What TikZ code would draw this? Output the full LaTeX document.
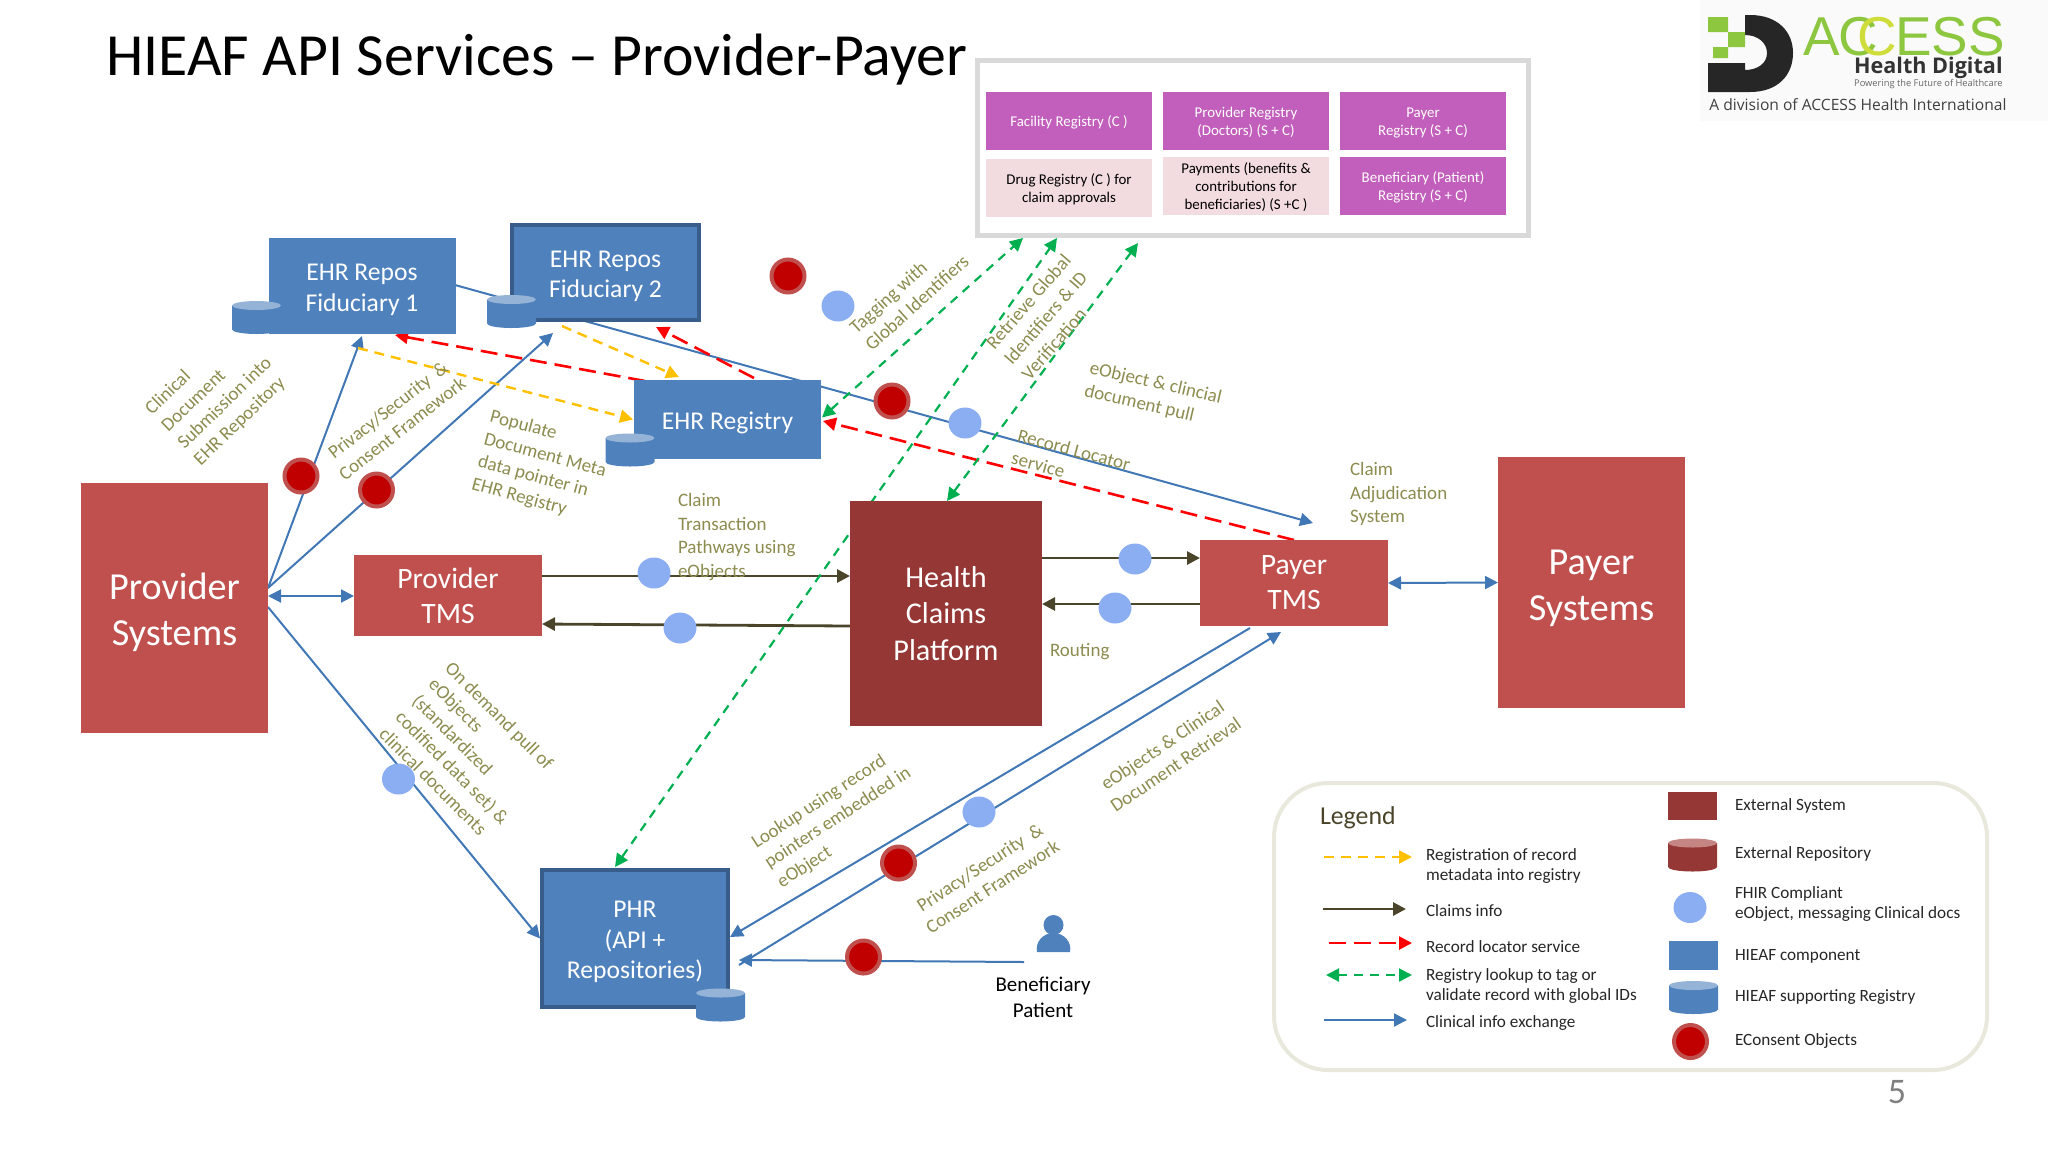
\documentclass[tikz,border=0pt]{standalone}
\usepackage{fontspec}
\setmainfont{Carlito}
\newfontfamily\logofont{Liberation Sans}
\newfontfamily\logotext{Open Sans}
\usetikzlibrary{calc,arrows.meta,shapes.geometric,backgrounds}
\definecolor{HieafBlue}{HTML}{4F81BD}
\definecolor{HieafEdge}{HTML}{385D8A}
\definecolor{HieafLight}{HTML}{95B3D7}
\definecolor{ExtRed}{HTML}{C0504D}
\definecolor{ExtDark}{HTML}{953735}
\definecolor{ExtLight}{HTML}{C58583}
\definecolor{LineBlue}{HTML}{4177B5}
\definecolor{ClaimLine}{HTML}{4A452A}
\definecolor{LabelOlive}{HTML}{8C8C50}
\definecolor{TokenBlue}{HTML}{8BAEF2}
\definecolor{ConsentRed}{HTML}{C00000}
\definecolor{RegPurple}{HTML}{C25EBB}
\definecolor{RegPink}{HTML}{F2DCDF}
\definecolor{LogoGreen}{HTML}{8DC63F}
\definecolor{LogoLime}{HTML}{CFDD3A}
\definecolor{RegYellow}{HTML}{FFC000}
\definecolor{GreenLink}{HTML}{00B050}
\definecolor{LegendEdge}{HTML}{E8E8DC}
% Text sits a little low in the boxes
\newcommand{\LowLine}{\rule{0pt}{.93em}}
\tikzset{%
	% Size in pixels of the reference
	Size/.style 2 args={minimum width=#1*0.5pt,minimum height=#2*0.5pt},
	% Style of the boxes
	BoxNode/.style={rectangle,inner sep=0,outer sep=0,align=center,text=white},
	ExtSystem/.style={BoxNode,fill=ExtRed,font=\fontsize{19.1}{23}\selectfont},
	ExtTms/.style={BoxNode,fill=ExtRed,font=\fontsize{14.8}{17.5}\selectfont},
	HieafBox/.style={BoxNode,fill=HieafBlue,font=\fontsize{12.8}{15.2}\selectfont},
	HieafEdged/.style={HieafBox,draw=HieafEdge,line width=2pt},
	% Style of the registry cells
	RegCell/.style={BoxNode,Size={166}{58},fill=RegPurple,font=\fontsize{7.45}{9}\selectfont},
	RegPale/.style={RegCell,fill=RegPink,text=black},
	% Style of the drums
	pics/Drum/.style 2 args={code={
		\fill[#1] (-24.5,-12) -- (-24.5,12) arc[start angle=180,end angle=0,x radius=24.5,y radius=4.5] -- (24.5,-12) -- cycle;
		\fill[#2] (0,-12) ellipse[x radius=24.5,y radius=4.5];
	}},
	% Style of the round objects on the branches
	Token/.style={ellipse,inner sep=0,outer sep=0,fill=TokenBlue,Size={33}{31}},
	Consent/.style={ellipse,inner sep=0,outer sep=0,fill=ConsentRed,draw=ExtRed,line width=2pt,Size={33}{33}},
	% Style of the labels
	FlowName/.style={font=\fontsize{9.5}{11.7}\selectfont,text=LabelOlive,align=left,inner sep=0,outer sep=0},
	LegendName/.style={font=\fontsize{8.6}{10}\selectfont,text=black!85,align=left,anchor=west,inner sep=0,outer sep=0,yshift=-0.5pt},
	% Style of the branches
	Tip/.style={>={Triangle[length=6.5pt,width=6.5pt]}},
	ClinicalLink/.style={Tip,draw=LineBlue,color=LineBlue,line width=1pt},
	ClaimLink/.style={Tip,draw=ClaimLine,color=ClaimLine,line width=1.4pt},
	MetaLink/.style={Tip,color=RegYellow,line width=1.2pt,dash pattern=on 5pt off 3.5pt},
	LocatorLink/.style={Tip,color=red,line width=1.3pt,dash pattern=on 8.5pt off 4pt},
	LookupLink/.style={Tip,color=GreenLink,line width=1.1pt,dash pattern=on 4.5pt off 3.5pt},
}

\begin{document}
\begin{tikzpicture}[x=0.5pt,y=-0.5pt] % one unit is one pixel of the reference
\useasboundingbox (0,0) rectangle (2048,1152);

%~~~~~~~~~~~~~~~~~~~~~~~~~~~~~~~~~~~~~~~~~~~~~~~~~~
% Title and logo
%~~~~~~~~~~~~~~~~~~~~~~~~~~~~~~~~~~~~~~~~~~~~~~~~~~
\node[anchor=west,inner sep=0,font=\fontsize{29.9}{34}\selectfont] (Title) at (106,60) {HIEAF API Services -- Provider-Payer};

\fill[black!2] (1700,0) rectangle (2048,121);
\fill[black!85] (1745,15) -- (1750,15) .. controls (1778,15) and (1793,32) .. (1793,53) .. controls (1793,75) and (1778,92) .. (1750,92) -- (1708,92) -- (1708,63) -- (1745,63) -- (1745,70) .. controls (1758,70) and (1767,63) .. (1767,53) .. controls (1767,43) and (1758,35) .. (1745,35) -- cycle;
\fill[LogoGreen] (1708,17) rectangle (1728,32) (1728,32) rectangle (1745,47) (1713,47) rectangle (1728,58);
\node[anchor=west,inner sep=0,font=\logofont\fontsize{27.4}{30}\selectfont,text=LogoGreen] (LogoName) at (1803,37) {A\kern-1pt C\kern-10pt\textcolor{LogoLime}{C}\kern-1pt ESS};
\node[anchor=east,inner sep=0,font=\logotext\bfseries\fontsize{10.8}{12}\selectfont,text=black!80] (LogoDigital) at (2003,68) {Health Digital};
\node[anchor=east,inner sep=0,font=\logotext\fontsize{4.65}{6}\selectfont,text=black!60] (LogoMotto) at (2003,84) {Powering the Future of Healthcare};
\node[anchor=west,inner sep=0,font=\logotext\fontsize{7.8}{9}\selectfont,text=black!75] (LogoLine) at (1709,105) {A division of ACCESS Health International};

%~~~~~~~~~~~~~~~~~~~~~~~~~~~~~~~~~~~~~~~~~~~~~~~~~~
% Set Nodes
%~~~~~~~~~~~~~~~~~~~~~~~~~~~~~~~~~~~~~~~~~~~~~~~~~~
\node[rectangle,draw=black!15,fill=white,line width=2.5pt,inner sep=0,outer sep=0,Size={551}{175}] (Panel) at (1252.5,148) {};
\node[RegCell] (RegFacility) at (1069,121) {\LowLine Facility Registry (C )};
\node[RegCell] (RegProvider) at (1246,121) {\LowLine Provider Registry\\(Doctors) (S + C)};
\node[RegCell] (RegPayer) at (1423,121) {\LowLine Payer\\Registry (S + C)};
\node[RegPale] (RegDrug) at (1069,188) {\LowLine Drug Registry (C ) for\\claim approvals};
\node[RegPale] (RegPayments) at (1246,186) {\LowLine Payments (benefits \&\\contributions for\\beneficiaries) (S +C )};
\node[RegCell] (RegBeneficiary) at (1423,186) {\LowLine Beneficiary (Patient)\\Registry (S + C)};

\node[ExtSystem,Size={187}{250}] (ProvSys) at (174.5,608) {\LowLine Provider\\Systems};
\node[ExtTms,Size={188}{81}] (ProvTms) at (448,595.5) {Provider\\TMS};
\node[BoxNode,fill=ExtDark,font=\fontsize{15.1}{18.3}\selectfont,Size={192}{225}] (Hcp) at (946,613.5) {Health\\Claims\\Platform};
\node[ExtTms,Size={188}{86}] (PayTms) at (1294,583) {Payer\\TMS};
\node[ExtSystem,Size={187}{251}] (PaySys) at (1591.5,582.5) {\LowLine Payer\\Systems};

\node[HieafBox,Size={187}{96}] (Ehr1) at (362,286) {\LowLine EHR Repos\\Fiduciary 1};
\node[HieafEdged,Size={187}{95}] (Ehr2) at (605.5,272.5) {\LowLine EHR Repos\\Fiduciary 2};
\node[HieafBox,Size={187}{79}] (Registry) at (727.5,419.5) {\LowLine EHR Registry};
\node[HieafEdged,Size={186}{137}] (Phr) at (635,938.5) {\LowLine PHR\\(API +\\Repositories)};

\pic (Ehr1Drum) at (256.5,317.5) {Drum={HieafBlue}{HieafLight}};
\pic (Ehr2Drum) at (511.5,311.5) {Drum={HieafBlue}{HieafLight}};
\pic (RegistryDrum) at (630,450) {Drum={HieafBlue}{HieafLight}};
\pic (PhrDrum) at (720.5,1005) {Drum={HieafBlue}{HieafLight}};

\node[Consent] (C1) at (301,476) {};
\node[Consent] (C2) at (376.5,490) {};
\node[Consent] (C3) at (788,276) {};
\node[Consent] (C4) at (892,401) {};
\node[Consent] (C5) at (898.5,863) {};
\node[Consent] (C6) at (863.5,957) {};

\node[Token] (T1) at (838,306) {};
\node[Token] (T2) at (965,423) {};
\node[Token] (T3) at (654,573) {};
\node[Token] (T4) at (680,628) {};
\node[Token] (T5) at (1135,559) {};
\node[Token] (T6) at (1115,608) {};
\node[Token] (T7) at (398.5,779) {};
\node[Token] (T8) at (979,812) {};

% Beneficiary
\node[circle,fill=HieafBlue,inner sep=0,minimum size=10pt] (PatientHead) at (1053.5,925) {};
\fill[HieafBlue] (1037,952) .. controls (1035,942) and (1043,933) .. (1053.5,933) .. controls (1064,933) and (1072,942) .. (1070,952) -- cycle;
\node[font=\fontsize{10.5}{13}\selectfont,align=center,inner sep=0] (PatientName) at (1043,997) {Beneficiary\\Patient};
\coordinate (PatientEnd) at (1024,962);

%~~~~~~~~~~~~~~~~~~~~~~~~~~~~~~~~~~~~~~~~~~~~~~~~~~
% Set Branches
%~~~~~~~~~~~~~~~~~~~~~~~~~~~~~~~~~~~~~~~~~~~~~~~~~~
\begin{scope}[on background layer]
%Clinical info exchange
\draw [->, ClinicalLink] ($ (ProvSys.east) + (0, -20) $) -- ($ (Ehr1.south) + (0, 2) $);
\draw [->, ClinicalLink] ($ (ProvSys.east) + (0, -20) $) -- ($ (Ehr2.south) + (-52.5, 13) $);
\draw [<->, ClinicalLink] ($ (ProvSys.east) + (0, -12) $) -- ($ (ProvTms.west) + (0, 0.5) $);
\draw [->, ClinicalLink] ($ (ProvSys.east) + (0, -1) $) -- ($ (Phr.west) + (-2, 0) $);
\draw [->, ClinicalLink] ($ (Ehr1.east) + (-0.5, -1) $) -- ($ (PayTms.north) + (19, -17) $);
\draw [<->, ClinicalLink] (PayTms.east) -- (PaySys.west);
\draw [->, ClinicalLink] ($ (PayTms.south) + (-44, 2) $) -- ($ (Phr.east) + (2, -1.5) $);
\draw [->, ClinicalLink] ($ (Phr.east) + (11, 26.5) $) -- ($ (PayTms.south) + (-13, 6) $);
\draw [->, ClinicalLink] (PatientEnd) -- ($ (Phr.east) + (11, 21.5) $);

%Claims info
\draw [->, ClaimLink] ($ (ProvTms.east) + (0, -19.5) $) -- ($ (Hcp.west) + (0, -37.5) $);
\draw [->, ClaimLink] ($ (Hcp.west) + (0, 12.5) $) -- ($ (ProvTms.east) + (0, 28.5) $);
\draw [->, ClaimLink] ($ (Hcp.east) + (0, -55.5) $) -- ($ (PayTms.west) + (0, -25) $);
\draw [->, ClaimLink] ($ (PayTms.west) + (0, 21) $) -- ($ (Hcp.east) + (0, -9.5) $);

%Registration of record metadata
\draw [->, MetaLink] ($ (Ehr1.south) + (-4, 14) $) -- ($ (Registry.west) + (-1, 0) $);
\draw [->, MetaLink] ($ (Ehr2.south) + (-43.5, 6) $) -- ($ (Registry.north) + (-48.5, -3) $);

%Record locator service
\draw [->, LocatorLink] ($ (Registry.north) + (-82.5, 1) $) -- ($ (Ehr1.south) + (33, 1) $);
\draw [->, LocatorLink] ($ (Registry.north) + (26.5, -2) $) -- ($ (Ehr2.south) + (50.5, 7) $);
\draw [->, LocatorLink] (PayTms.north) -- ($ (Registry.east) + (2, 1.5) $);

%Registry lookup
\draw [<->, LookupLink] ($ (Registry.east) + (1, -2) $) -- ($ (Panel.south) + (-229.5, 2.5) $);
\draw [<->, LookupLink] ($ (Phr.north) + (-20, -3) $) -- ($ (Panel.south) + (-195.5, 2.5) $);
\draw [<->, LookupLink] ($ (Hcp.north) + (1, 0) $) -- ($ (Panel.south) + (-114.5, 7.5) $);
\end{scope}

%~~~~~~~~~~~~~~~~~~~~~~~~~~~~~~~~~~~~~~~~~~~~~~~~~~
% Set Branch Labels
%~~~~~~~~~~~~~~~~~~~~~~~~~~~~~~~~~~~~~~~~~~~~~~~~~~
\node[FlowName,rotate=44] (L1) at (217,395) {Clinical\\Document\\Submission into\\EHR Repository};
\node[FlowName,rotate=38,align=center] (L2) at (395,419) {Privacy/Security\ \ \&\\Consent Framework};
\node[FlowName,rotate=-15] (L3) at (542,467) {Populate\\Document Meta\\data pointer in\\EHR Registry};
\node[FlowName,anchor=west] (L4) at (678,537) {Claim\\Transaction\\Pathways using\\eObjects};
\node[FlowName,rotate=42] (L5) at (909,294) {Tagging with\\Global Identifiers};
\node[FlowName,rotate=49] (L6) at (1046,317) {Retrieve Global\\Identifiers \& ID\\Verification};
\node[FlowName,rotate=-13] (L7) at (1153,395) {eObject \& clincial\\document pull};
\node[FlowName,rotate=-15] (L8) at (1071,461) {Record Locator\\service};
\node[FlowName,anchor=west] (L9) at (1350,494) {Claim\\Adjudication\\System};
\node[FlowName,anchor=west] (L10) at (1050,652) {Routing};
\node[FlowName,rotate=-45] (L11) at (469,751) {On demand pull of\\eObjects\\(standardized\\codified data set) \&\\clinical documents};
\node[FlowName,rotate=33] (L12) at (838,818) {Lookup using record\\pointers embedded in\\eObject};
\node[FlowName,rotate=33,align=center] (L13) at (986,877) {Privacy/Security\ \ \&\\Consent Framework};
\node[FlowName,rotate=34,align=center] (L14) at (1169,755) {eObjects \& Clinical\\Document Retrieval};

%~~~~~~~~~~~~~~~~~~~~~~~~~~~~~~~~~~~~~~~~~~~~~~~~~~
% Legend
%~~~~~~~~~~~~~~~~~~~~~~~~~~~~~~~~~~~~~~~~~~~~~~~~~~
\node[rectangle,rounded corners=27pt,draw=LegendEdge,line width=2pt,inner sep=0,outer sep=0,Size={713}{287}] (Legend) at (1630.5,926.5) {};
\node[LegendName,font=\fontsize{12.9}{14}\selectfont,text=ClaimLine] (LegendTitle) at (1320,817) {Legend};

\coordinate (MetaA) at (1324,857);
\coordinate (MetaB) at (1412,857);
\draw [->, MetaLink] (MetaA) -- (MetaB);
\node[LegendName] (MetaName) at (1426,865) {Registration of record\\metadata into registry};

\coordinate (ClaimA) at (1323,909);
\coordinate (ClaimB) at (1406,909);
\draw [->, ClaimLink] (ClaimA) -- (ClaimB);
\node[LegendName] (ClaimName) at (1426,910) {Claims info};

\coordinate (LocatorA) at (1329,943);
\coordinate (LocatorB) at (1412,943);
\draw [->, LocatorLink] (LocatorA) -- (LocatorB);
\node[LegendName] (LocatorName) at (1426,946) {Record locator service};

\coordinate (LookupA) at (1326,975);
\coordinate (LookupB) at (1412,975);
\draw [<->, LookupLink] (LookupA) -- (LookupB);
\node[LegendName] (LookupName) at (1426,985) {Registry lookup to tag or\\validate record with global IDs};

\coordinate (ClinicalA) at (1324,1020);
\coordinate (ClinicalB) at (1407,1020);
\draw [->, ClinicalLink] (ClinicalA) -- (ClinicalB);
\node[LegendName] (ClinicalName) at (1426,1022) {Clinical info exchange};

\node[BoxNode,fill=ExtDark,Size={49}{28}] (KeyExt) at (1692.5,806) {};
\node[LegendName] (KeyExtName) at (1735,805) {External System};
\pic (KeyRepo) at (1692.5,855) {Drum={ExtDark}{ExtLight}};
\node[LegendName] (KeyRepoName) at (1735,853) {External Repository};
\node[Token] (KeyToken) at (1690,907.5) {};
\node[LegendName] (KeyTokenName) at (1735,903) {FHIR Compliant\\eObject, messaging Clinical docs};
\node[BoxNode,fill=HieafBlue,Size={49}{29}] (KeyHieaf) at (1693.5,955.5) {};
\node[LegendName] (KeyHieafName) at (1735,955) {HIEAF component};
\pic (KeyDrum) at (1693.5,997.5) {Drum={HieafBlue}{HieafLight}};
\node[LegendName] (KeyDrumName) at (1735,996) {HIEAF supporting Registry};
\node[Consent] (KeyConsent) at (1690.5,1041.5) {};
\node[LegendName] (KeyConsentName) at (1735,1040) {EConsent Objects};

\node[inner sep=0,font=\fontsize{18}{20}\selectfont,text=black!50] (PageNum) at (1897,1092) {5};

\end{tikzpicture}
\end{document}
